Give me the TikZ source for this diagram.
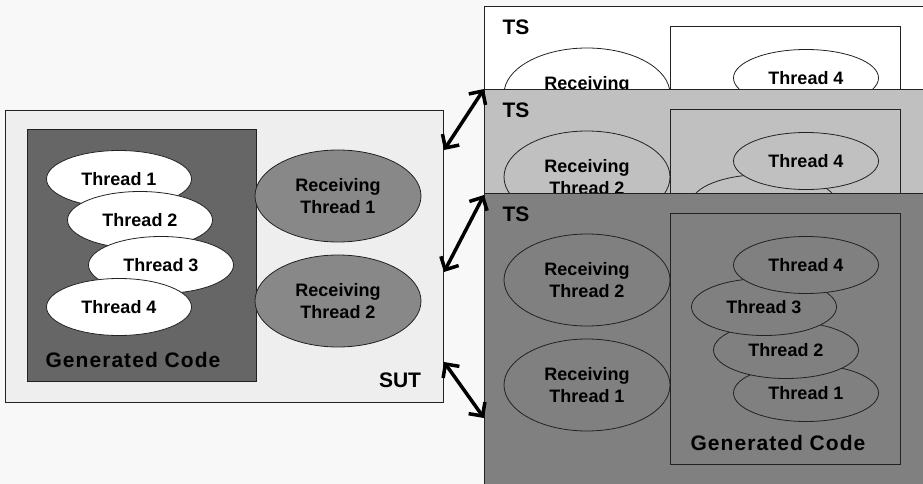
\documentclass[tikz,border=0pt]{standalone}
\usepackage{fontspec}
\setmainfont{Liberation Sans}
\usetikzlibrary{shapes.geometric,arrows.meta,calc}

\definecolor{bgcol}{HTML}{F8F8F8}
\definecolor{sutcol}{HTML}{EEEEEE}
\definecolor{gencol}{HTML}{666666}
\definecolor{recvcol}{HTML}{888888}
\definecolor{tsmid}{HTML}{C0C0C0}
\definecolor{tsdark}{HTML}{808080}
\definecolor{edge}{HTML}{222222}

\tikzset{
	box/.style={draw=edge, line width=1pt, anchor=north west, inner sep=0pt},
	thr/.style={ellipse, draw=edge, line width=0.8pt, fill=white, minimum width=145pt,
		minimum height=57pt, inner sep=0pt, font=\bfseries\fontsize{18}{22}\selectfont},
	recv/.style={thr, fill=recvcol, minimum width=166pt, minimum height=92pt, align=center},
	lbl/.style={font=\bfseries\fontsize{21}{24}\selectfont},
	genlbl/.style={font=\bfseries\fontsize{21}{24}\selectfont\addfontfeature{LetterSpace=5}},
	link/.style={line width=3.5pt, {Straight Barb[length=10pt,width=20pt]}-{Straight Barb[length=10pt,width=20pt]}}
}

\begin{document}
\begin{tikzpicture}[x=1pt,y=-1pt]
	\useasboundingbox (0,0) rectangle (923,484);
	\clip (0,0) rectangle (923,484);
	\fill[bgcol] (0,0) rectangle (923,484);

	% system under test
	\node[box, fill=sutcol, minimum width=438pt, minimum height=292pt] (sut) at (5,110) {};
	\node[box, fill=gencol, minimum width=229pt, minimum height=252pt] (gen) at (27,129) {};
	\node[thr] (t1) at (119,179) {Thread 1};
	\node[thr] (t2) at (140,220) {Thread 2};
	\node[thr] (t3) at (161,265) {Thread 3};
	\node[thr] (t4) at (119,307) {Thread 4};
	\node[genlbl] (genname) at (133,360) {Generated Code};
	\node[recv] (r1) at (338,196) {Receiving\\Thread 1};
	\node[recv] (r2) at (338,301) {Receiving\\Thread 2};
	\node[lbl] (sutname) at (400,380) {SUT};

	% test systems behind, only their upper strip shows
	\foreach \n/\ty/\col in {1/6/white, 2/89/tsmid} {
		\begin{scope}[shift={(0,\ty)}]
			\node[box, fill=\col, minimum width=460pt, minimum height=300pt] (ts\n) at (484,0) {};
			\node[box, fill=\col, minimum width=230pt, minimum height=251pt] (tsgen\n) at (670,20) {};
			\node[lbl, anchor=west] (tsname\n) at (499,21) {TS};
			\node[recv, fill=\col] (tsr2\n) at (587,88) {Receiving\\Thread 2};
			\node[thr, fill=\col] (tst3\n) at (764,114) {};
			\node[thr, fill=\col] (tst4\n) at (806,72) {Thread 4};
		\end{scope}
	}

	% front test system
	\begin{scope}[shift={(0,193)}]
		\node[box, fill=tsdark, minimum width=460pt, minimum height=300pt] (ts3) at (484,0) {};
		\node[box, fill=tsdark, minimum width=230pt, minimum height=251pt] (tsgen3) at (670,20) {};
		\node[lbl, anchor=west] (tsname3) at (499,21) {TS};
		\node[recv, fill=tsdark] (tsr23) at (587,87) {Receiving\\Thread 2};
		\node[recv, fill=tsdark] (tsr13) at (587,192) {Receiving\\Thread 1};
		\node[thr, fill=tsdark] (tst13) at (806,200) {Thread 1};
		\node[thr, fill=tsdark] (tst23) at (786,157) {Thread 2};
		\node[thr, fill=tsdark] (tst33) at (764,114) {Thread 3};
		\node[thr, fill=tsdark] (tst43) at (806,72) {Thread 4};
		\node[genlbl] (tsgenname3) at (778,250) {Generated Code};
	\end{scope}

	% links
	\coordinate (a1s) at ($(sut.north east)+(0,40)$);
	\coordinate (a1t) at ($(ts1.north west)+(0,83)$);
	\coordinate (a2s) at ($(sut.north east)+(0,162)$);
	\coordinate (a2t) at ($(ts2.north west)+(0,106)$);
	\coordinate (a3s) at ($(sut.north east)+(0,252)$);
	\coordinate (a3t) at ($(ts3.north west)+(0,225)$);
	\draw[link] (a1s) -- (a1t);
	\draw[link] (a2s) -- (a2t);
	\draw[link] (a3s) -- (a3t);
\end{tikzpicture}
\end{document}
